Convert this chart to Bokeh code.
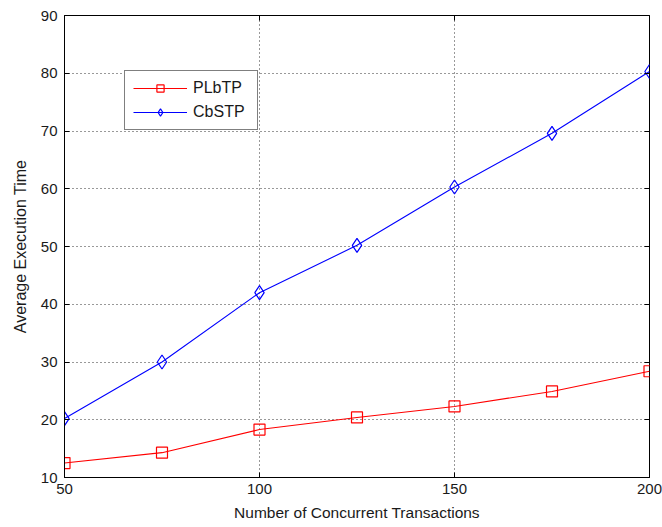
from bokeh.plotting import figure
from bokeh.models import LinearAxis, Range1d, FixedTicker, Legend, LegendItem
from bokeh.embed import file_html
from bokeh.resources import INLINE

x_vals = [50, 75, 100, 125, 150, 175, 200]
plbtp = [12.5, 14.3, 18.3, 20.4, 22.3, 24.9, 28.4]
cbstp = [20.2, 30.0, 42.0, 50.2, 60.3, 69.6, 80.3]
x_ticks = [50, 100, 150, 200]
y_ticks = [10, 20, 30, 40, 50, 60, 70, 80, 90]

FONT = "Liberation Sans"

p = figure(frame_width=585, frame_height=462, output_backend="svg", toolbar_location=None,
           x_range=Range1d(50, 200), y_range=Range1d(10, 90),
           min_border_left=64, min_border_top=15, min_border_right=13, min_border_bottom=50)
p.outline_line_color = "black"
p.outline_line_width = 1

for ax in (p.xaxis[0], p.yaxis[0]):
    ax.major_tick_in = 5
    ax.major_tick_out = 0
    ax.minor_tick_in = 0
    ax.minor_tick_out = 0
    ax.axis_line_color = "black"
    ax.major_tick_line_color = "black"
    ax.major_label_text_font = FONT
    ax.major_label_text_font_size = "15px"
    ax.major_label_text_color = "#1a1a1a"
    ax.axis_label_text_font = FONT
    ax.axis_label_text_font_style = "normal"
    ax.axis_label_text_color = "#1a1a1a"
p.xaxis[0].major_label_standoff = 6
p.xaxis[0].axis_label_standoff = 7
p.xaxis[0].axis_label_text_font_size = "15.5px"
p.yaxis[0].major_label_standoff = 7
p.yaxis[0].axis_label_standoff = 9
p.yaxis[0].axis_label_text_font_size = "16px"
p.xaxis[0].ticker = FixedTicker(ticks=x_ticks)
p.yaxis[0].ticker = FixedTicker(ticks=y_ticks)
p.xaxis[0].axis_label = "Number of Concurrent Transactions"
p.yaxis[0].axis_label = "Average Execution Time"

for loc, ticks in (("right", y_ticks), ("above", x_ticks)):
    ax = LinearAxis(ticker=FixedTicker(ticks=ticks), major_tick_in=5, major_tick_out=0,
                    minor_tick_in=0, minor_tick_out=0, axis_line_color=None,
                    major_label_overrides={t: "" for t in ticks}, major_label_standoff=0)
    p.add_layout(ax, loc)

p.xgrid.ticker = FixedTicker(ticks=x_ticks)
p.ygrid.ticker = FixedTicker(ticks=y_ticks)
for g in (p.xgrid, p.ygrid):
    g.grid_line_color = "black"
    g.grid_line_dash = "1 3"
    g.grid_line_width = 1
    g.grid_line_alpha = 0.8

r1 = p.line(x_vals, plbtp, line_color="#ff0000", line_width=1.1)
s1 = p.scatter(x_vals, plbtp, marker="square", size=11, fill_color=None, line_color="#ff0000", line_width=1.2)
r2 = p.line(x_vals, cbstp, line_color="#0000ff", line_width=1.1)
s2 = p.scatter(x_vals, cbstp, marker="diamond", size=14, fill_color=None, line_color="#0000ff", line_width=1.2)

legend = Legend(items=[LegendItem(label="PLbTP", renderers=[r1, s1]),
                       LegendItem(label="CbSTP", renderers=[r2, s2])],
                location=(60, 347), border_line_color="black", border_line_width=1,
                label_text_font=FONT, label_text_font_size="16px", label_text_color="#1a1a1a",
                glyph_width=54, glyph_height=18, spacing=6, padding=8, margin=0,
                label_standoff=6, label_width=56, background_fill_alpha=1)
p.add_layout(legend, "center")

open("out.html", "w").write(file_html(p, INLINE))
